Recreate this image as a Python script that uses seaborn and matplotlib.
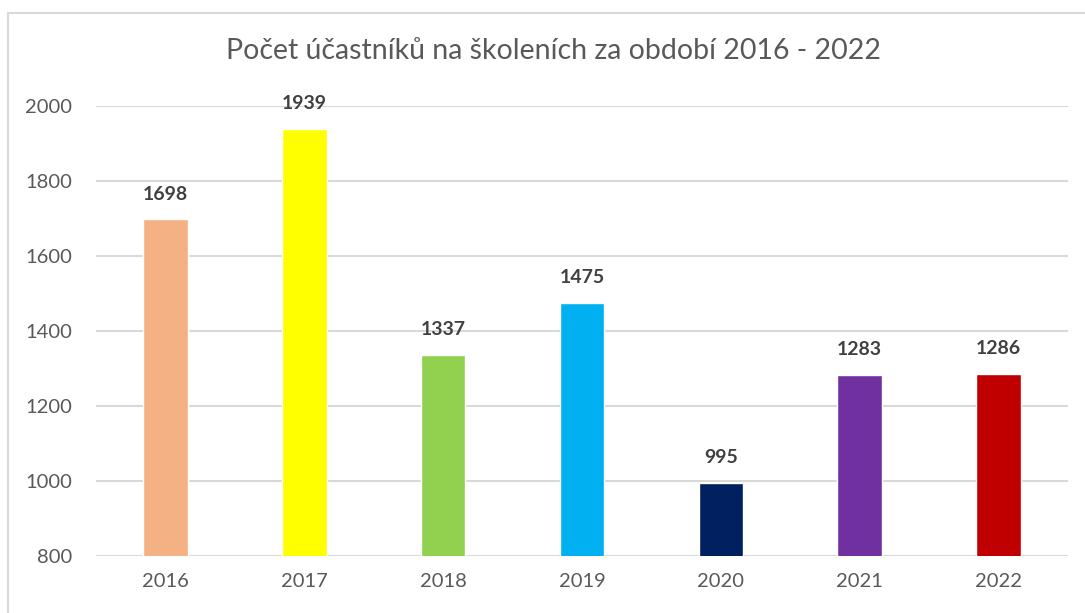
import matplotlib
matplotlib.use("Agg")
import matplotlib.pyplot as plt
import seaborn as sns
import pandas as pd
from matplotlib.patches import Rectangle

years = ["2016", "2017", "2018", "2019", "2020", "2021", "2022"]
participants = [1698, 1939, 1337, 1475, 995, 1283, 1286]
colors = ["#F4B183", "#FFFF00", "#92D050", "#00B0F0", "#002060", "#7030A0", "#C00000"]
title = "Počet účastníků na školeních za období 2016 - 2022"

sns.set_style("white")
plt.rcParams["font.family"] = ["Lato", "DejaVu Sans"]

df = pd.DataFrame({"year": years, "count": participants})

fig = plt.figure(figsize=(10.85, 6.13), dpi=100)
ax = fig.add_axes([0.0885, 0.093, 0.8958, 0.734])

sns.barplot(data=df, x="year", y="count", hue="year", palette=colors,
            width=0.32, legend=False, ax=ax, saturation=1)

ax.set_ylim(800, 2000)
ax.set_xlim(-0.5, 6.5)
ax.set_yticks(range(800, 2001, 200))
ax.grid(axis="y", color="#D9D9D9", linewidth=1.5)
ax.set_axisbelow(True)
for s in ax.spines.values():
    s.set_visible(False)
ax.tick_params(axis="both", length=0, labelsize=14.5, labelcolor="#595959")
ax.tick_params(axis="x", pad=12)
ax.tick_params(axis="y", pad=17)
ax.set_xlabel("")
ax.set_ylabel("")

for c in ax.containers:
    ax.bar_label(c, fmt="%d", padding=12, fontsize=14, fontweight="bold",
                 color="#404040")

fig.text(0.51, 0.917, title, ha="center", va="center", fontsize=20.5,
         color="#595959")

fig.patches.append(Rectangle((0.0074, -0.1), 1.2, 1.0788, transform=fig.transFigure,
                             fill=False, edgecolor="#D9D9D9", linewidth=1.5))

fig.savefig("out.png", dpi=100)
